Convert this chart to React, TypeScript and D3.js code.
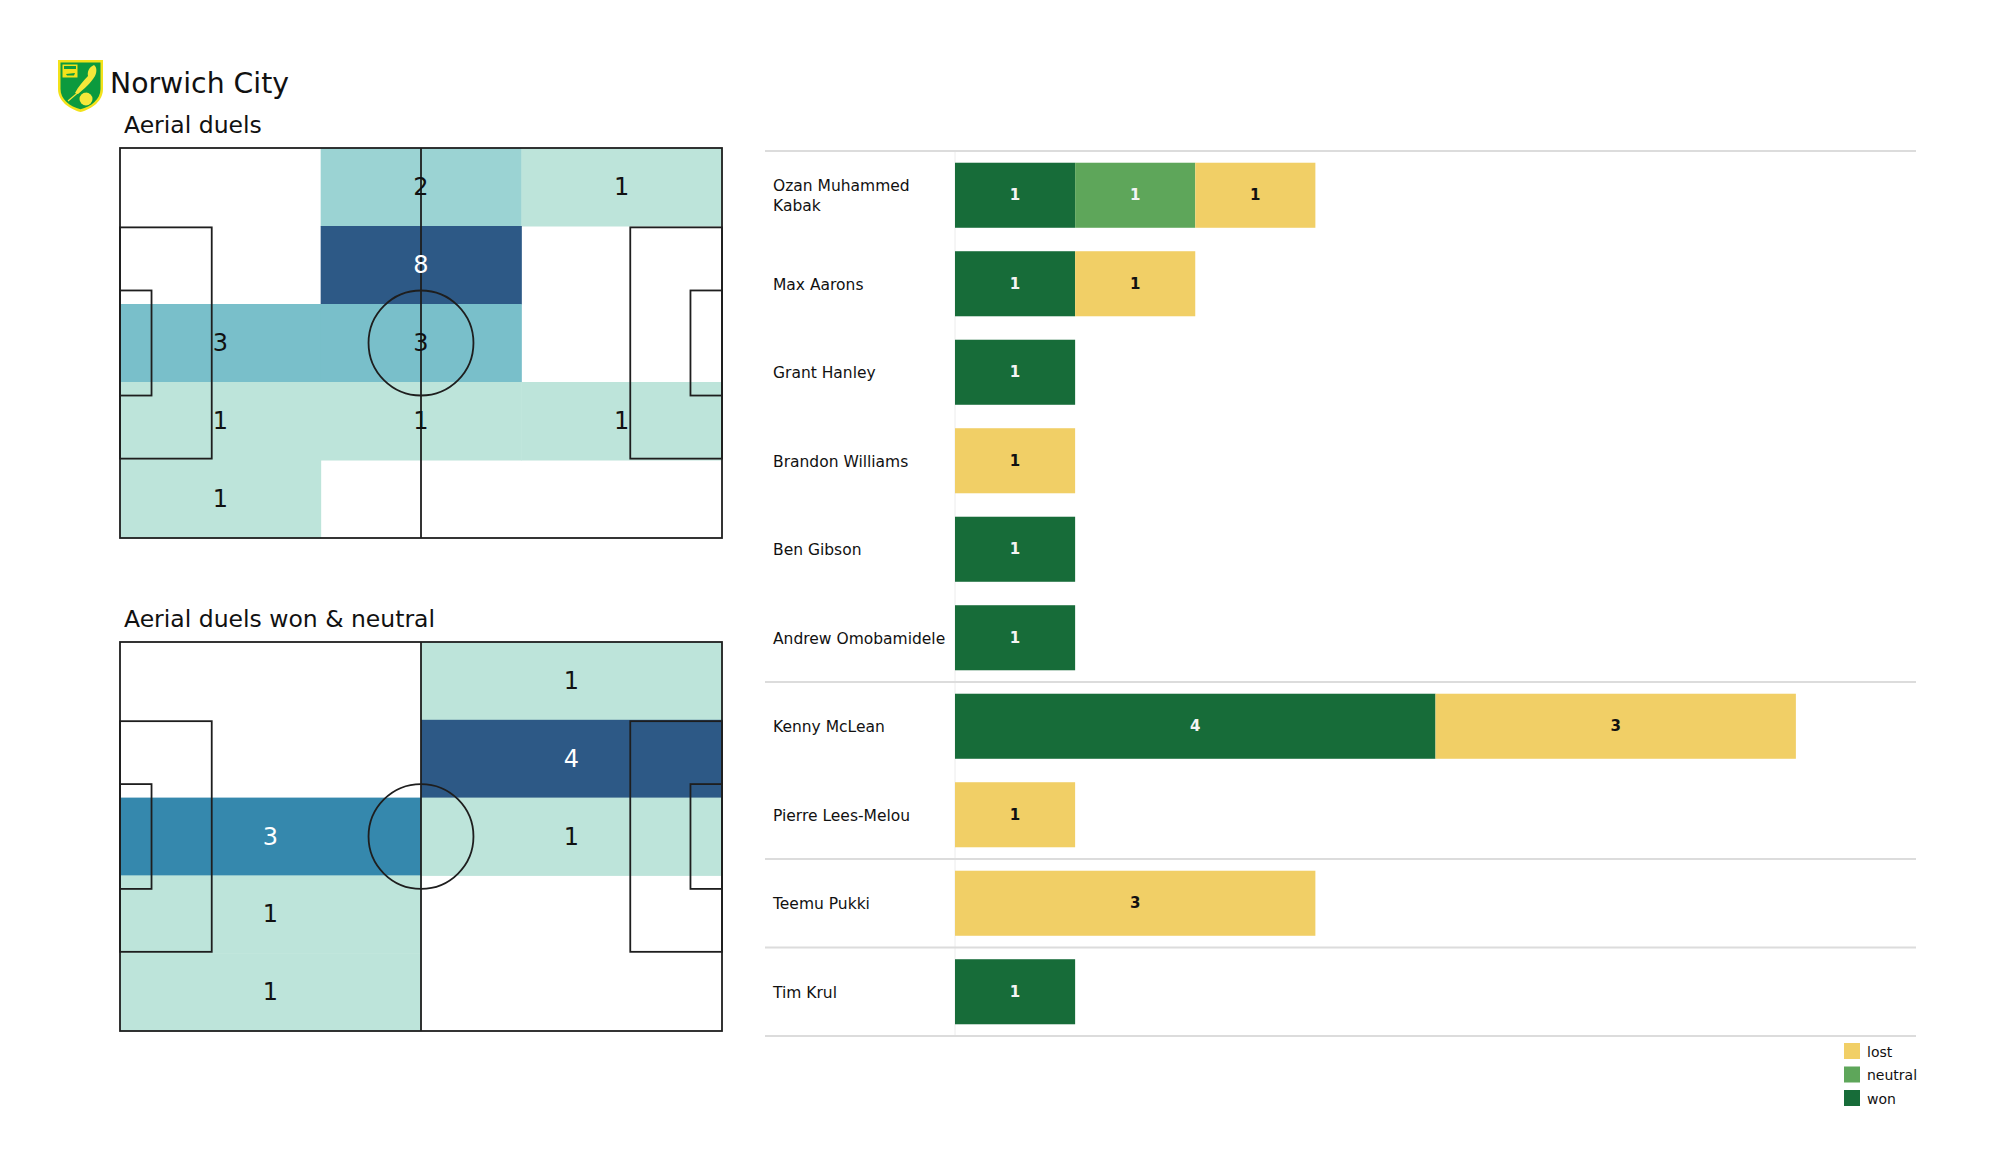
import React from "react";
import * as d3 from "d3";

// ---------- data ----------
const teamName = "Norwich City";
const pitchTitles = ["Aerial duels", "Aerial duels won & neutral"];

const players = [
  "Ozan Muhammed Kabak",
  "Max Aarons",
  "Grant Hanley",
  "Brandon Williams",
  "Ben Gibson",
  "Andrew Omobamidele",
  "Kenny McLean",
  "Pierre Lees-Melou",
  "Teemu Pukki",
  "Tim Krul",
];
const wonValues = [1, 1, 1, 0, 1, 1, 4, 0, 0, 1];
const neutralValues = [1, 0, 0, 0, 0, 0, 0, 0, 0, 0];
const lostValues = [1, 1, 0, 1, 0, 0, 3, 1, 3, 0];
const groupBreaksAfter = [5, 7, 8];

const outcomeKeys = ["won", "neutral", "lost"];
const outcomeColors = ["#176c39", "#5ea65a", "#f1cf66"];
const outcomeTextColors = ["#f4f4f4", "#f4f4f4", "#111111"];
const legendOrder = ["lost", "neutral", "won"];

// heatmap grids: rows top->bottom, columns left->right
const allDuelsGrid = [
  [0, 2, 1],
  [0, 8, 0],
  [3, 3, 0],
  [1, 1, 1],
  [1, 0, 0],
];
const wonNeutralGrid = [
  [0, 1],
  [0, 4],
  [3, 1],
  [1, 0],
  [1, 0],
];
const heatStops = [0, 1 / 7, 2 / 7, 2 / 3, 1];
const heatColors = ["#bde4da", "#9bd3d3", "#79bfca", "#3588ad", "#2d5986"];

const FONT = "DejaVu Sans, Verdana, sans-serif";

// ---------- pitch ----------
function Pitch({ left, top, width, height, grid, title }: any) {
  const PL = 105, PW = 68;
  const x = d3.scaleLinear().domain([0, PL]).range([left, left + width]);
  const y = d3.scaleLinear().domain([0, PW]).range([top, top + height]);
  const nRows = grid.length;
  const nCols = grid[0].length;
  const colBand = d3.scaleBand<number>().domain(d3.range(nCols)).range([left, left + width]);
  const rowBand = d3.scaleBand<number>().domain(d3.range(nRows)).range([top, top + height]);
  const vals = grid.flat().filter((v: number) => v > 0);
  const vmin = d3.min(vals) as number;
  const vmax = d3.max(vals) as number;
  const norm = d3.scaleLinear().domain([vmin, vmax]).range([0, 1]);
  const color = d3.scaleLinear<string>().domain(heatStops).range(heatColors).interpolate(d3.interpolateRgb);
  const stroke = "#1e1e1e";
  const sw = 1.8;
  const box = (x0: number, y0: number, x1: number, y1: number, key: string) => (
    <rect key={key} x={x(x0)} y={y(y0)} width={x(x1) - x(x0)} height={y(y1) - y(y0)} fill="none" stroke={stroke} strokeWidth={sw} />
  );
  return (
    <g>
      <text x={left + 4} y={top - 15} fontFamily={FONT} fontSize={23.5} fill="#111">{title}</text>
      {grid.map((row: number[], r: number) =>
        row.map((v: number, c: number) =>
          v > 0 ? (
            <rect key={`c${r}-${c}`} x={colBand(c)} y={rowBand(r)} width={colBand.bandwidth() + 0.5} height={rowBand.bandwidth() + 0.5} fill={color(norm(v))} />
          ) : null
        )
      )}
      {box(0, 0, PL, PW, "outer")}
      <line x1={x(PL / 2)} x2={x(PL / 2)} y1={y(0)} y2={y(PW)} stroke={stroke} strokeWidth={sw} />
      <ellipse cx={x(PL / 2)} cy={y(PW / 2)} rx={x(9.15) - x(0)} ry={y(9.15) - y(0)} fill="none" stroke={stroke} strokeWidth={sw} />
      {box(0, PW / 2 - 20.16, 16, PW / 2 + 20.16, "pl")}
      {box(PL - 16, PW / 2 - 20.16, PL, PW / 2 + 20.16, "pr")}
      {box(0, PW / 2 - 9.16, 5.5, PW / 2 + 9.16, "sl")}
      {box(PL - 5.5, PW / 2 - 9.16, PL, PW / 2 + 9.16, "sr")}
      {grid.map((row: number[], r: number) =>
        row.map((v: number, c: number) =>
          v > 0 ? (
            <text key={`t${r}-${c}`} x={(colBand(c) as number) + colBand.bandwidth() / 2} y={(rowBand(r) as number) + rowBand.bandwidth() / 2}
              textAnchor="middle" dominantBaseline="central" fontFamily={FONT} fontSize={24}
              fill={norm(v) > 0.5 ? "#ffffff" : "#111111"}>{v}</text>
          ) : null
        )
      )}
    </g>
  );
}

// ---------- crest ----------
function Crest({ x, y }: any) {
  return (
    <g transform={`translate(${x},${y})`}>
      <path d="M0,1 L45,1 L45,30 C45,42 34,50 22.5,53 C11,50 0,42 0,30 Z" fill="#f3e21a" />
      <path d="M2.5,3.5 L42.5,3.5 L42.5,30 C42.5,40.5 33,47.5 22.5,50.3 C12,47.5 2.5,40.5 2.5,30 Z" fill="#0c9a3e" />
      <rect x={4.5} y={5.5} width={15} height={13} fill="#f3e21a" />
      <rect x={6} y={7} width={12} height={3} fill="#0c9a3e" />
      <path d="M8,15 L17,14 L16,16.5 L9,16.5 Z" fill="#0c9a3e" />
      <path d="M36,6 C31,8 29,13 30,17 C25,22 20,28 17,34 L20,35 C26,30 33,24 37,17 C39,13 39,8 36,6 Z" fill="#f5e83a" />
      <path d="M10,42 L23,31" stroke="#f5e83a" strokeWidth={1.2} />
      <circle cx={28} cy={40} r={6.5} fill="#f5e83a" />
      <path d="M27,33 C29,31 32,31 33,33" stroke="#0c9a3e" strokeWidth={1.2} fill="none" />
    </g>
  );
}

// ---------- bar chart ----------
function wrapName(name: string, maxLen = 18): string[] {
  if (name.length <= maxLen) return [name];
  const words = name.split(" ");
  const lines: string[] = [];
  let cur = "";
  for (const w of words) {
    const cand = cur ? cur + " " + w : w;
    if (cand.length > 15 && cur) {
      lines.push(cur);
      cur = w;
    } else cur = cand;
  }
  if (cur) lines.push(cur);
  return lines;
}

function BarChart() {
  const table = players.map((p, i) => ({ player: p, won: wonValues[i], neutral: neutralValues[i], lost: lostValues[i] }));
  const series = d3.stack<any>().keys(outcomeKeys)(table);
  const x = d3.scaleLinear().domain([0, 8]).range([955, 1916]);
  const y = d3.scaleBand<string>().domain(players).range([151, 1036]).paddingInner(0.265).paddingOuter(0.1325);
  const color = d3.scaleOrdinal<string, string>().domain(outcomeKeys).range(outcomeColors);
  const textColor = d3.scaleOrdinal<string, string>().domain(outcomeKeys).range(outcomeTextColors);
  const step = y.step();
  const top = (y(players[0]) as number) - (step - y.bandwidth()) / 2;
  const lineYs = [top, ...groupBreaksAfter.map((i) => (y(players[i]) as number) + y.bandwidth() + (step - y.bandwidth()) / 2), top + step * players.length];
  const labelX = 773;
  return (
    <g>
      <line x1={x(0)} x2={x(0)} y1={lineYs[0]} y2={lineYs[lineYs.length - 1]} stroke="#ececec" strokeWidth={1} />
      {lineYs.map((ly, i) => (
        <line key={`sep${i}`} x1={765} x2={1916} y1={ly} y2={ly} stroke="#dcdcdc" strokeWidth={1.8} />
      ))}
      {series.map((s) => (
        <g key={s.key} fill={color(s.key)}>
          {s.map((d, i) =>
            d[1] - d[0] > 0 ? (
              <rect key={i} x={x(d[0])} y={y(players[i])} width={x(d[1]) - x(d[0])} height={y.bandwidth()} />
            ) : null
          )}
        </g>
      ))}
      {series.map((s) =>
        s.map((d, i) =>
          d[1] - d[0] > 0 ? (
            <text key={`${s.key}-${i}`} x={(x(d[0]) + x(d[1])) / 2} y={(y(players[i]) as number) + y.bandwidth() / 2}
              textAnchor="middle" dominantBaseline="central" fontFamily={FONT} fontWeight="bold" fontSize={15}
              fill={textColor(s.key)}>{d[1] - d[0]}</text>
          ) : null
        )
      )}
      {players.map((p) => {
        const lines = wrapName(p);
        const cy = (y(p) as number) + y.bandwidth() / 2 + 1;
        const lh = 20;
        return (
          <text key={p} fontFamily={FONT} fontSize={15.5} fill="#111">
            {lines.map((ln, k) => (
              <tspan key={k} x={labelX} y={cy + (k - (lines.length - 1) / 2) * lh} dominantBaseline="central">{ln}</tspan>
            ))}
          </text>
        );
      })}
      {legendOrder.map((k, i) => (
        <g key={k} transform={`translate(1844, ${1043 + i * 23.5})`}>
          <rect width={16} height={16} fill={color(k)} />
          <text x={23} y={8.5} dominantBaseline="central" fontFamily={FONT} fontSize={14} fill="#111">{k}</text>
        </g>
      ))}
    </g>
  );
}

export default function App() {
  return (
    <svg width={2000} height={1175} style={{ position: "absolute", left: 0, top: 0, background: "#fff" }}>
      <rect width={2000} height={1175} fill="#ffffff" />
      <Crest x={58} y={59} />
      <text x={110} y={93} fontFamily={FONT} fontSize={28.3} fill="#111">{teamName}</text>
      <Pitch left={120} top={148} width={602} height={390} grid={allDuelsGrid} title={pitchTitles[0]} />
      <Pitch left={120} top={642} width={602} height={389} grid={wonNeutralGrid} title={pitchTitles[1]} />
      <BarChart />
    </svg>
  );
}
